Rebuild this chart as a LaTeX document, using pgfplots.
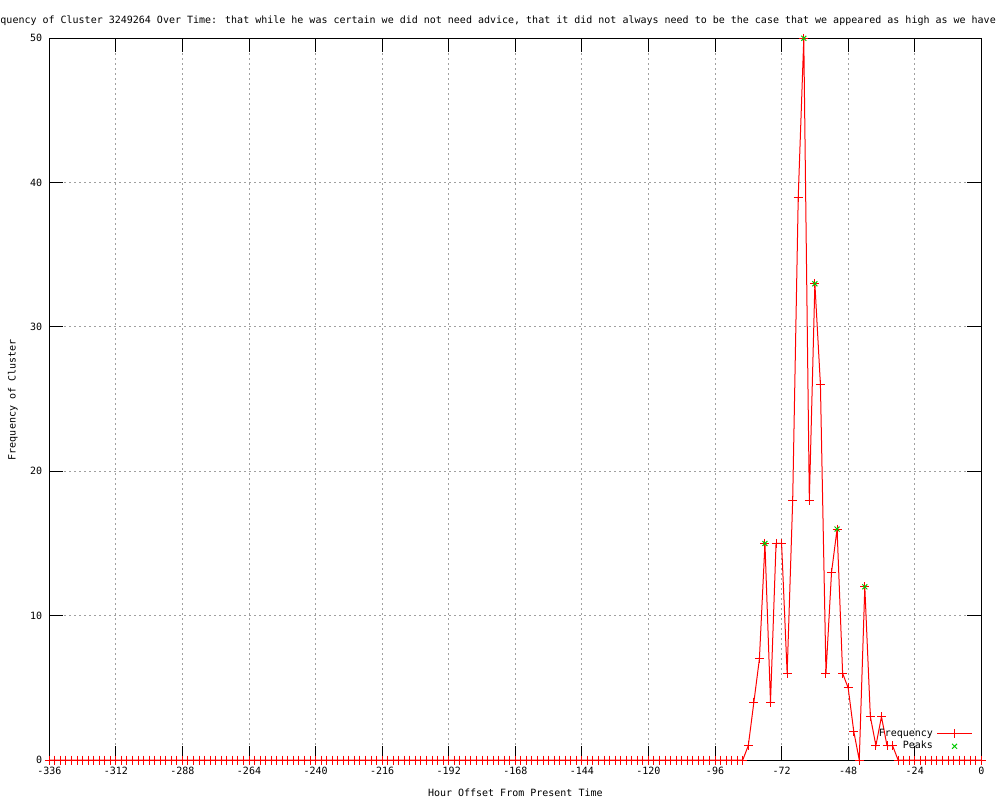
\documentclass[border=0pt]{standalone}
\usepackage{pgfplots}
\pgfplotsset{compat=1.18}
\usepackage{fontspec}
\setmainfont{DejaVu Sans Mono}
\definecolor{gpgreen}{RGB}{0,200,0}
\definecolor{gpgrid}{RGB}{160,160,160}
\begin{document}
\begin{tikzpicture}
\begin{axis}[
  scale only axis,
  width=466pt, height=360.85pt,
  xmin=-336, xmax=0, ymin=0, ymax=50,
  xtick={-336,-312,...,0},
  ytick={0,10,...,50},
  grid=major,
  major grid style={gpgrid, dash pattern=on 1pt off 1.5pt, line width=0.5pt},
  tick align=inside,
  major tick length=7pt,
  tick style={black, line width=0.5pt},
  axis line style={black, line width=0.5pt},
  /pgf/number format/assume math mode=true,
  /pgf/number format/1000 sep={},
  ticklabel style={font=\fontsize{5}{6}\selectfont},
  xlabel={Hour Offset From Present Time},
  ylabel={Frequency of Cluster},
  every axis x label/.style={at={(axis description cs:0.5,-0.0457)}, anchor=center, font=\fontsize{5}{6}\selectfont},
  every axis y label/.style={at={(axis description cs:-0.039,0.499)}, rotate=90, anchor=center, font=\fontsize{5}{6}\selectfont},
  clip=false,
  legend plot pos=right,
  legend cell align=right,
  legend style={draw=none, fill=none, font=\fontsize{5}{6}\selectfont,
    at={(axis description cs:0.997,0.0)}, anchor=south east,
    row sep=-3pt},
]
\addplot[red, line width=0.5pt, mark=+, mark size=2.25pt, mark options={solid, line width=0.5pt}]
table[row sep=\\] {
x y\\
-336 0\\ -334 0\\ -332 0\\ -330 0\\ -328 0\\ -326 0\\ -324 0\\ -322 0\\ -320 0\\ -318 0\\
-316 0\\ -314 0\\ -312 0\\ -310 0\\ -308 0\\ -306 0\\ -304 0\\ -302 0\\ -300 0\\ -298 0\\
-296 0\\ -294 0\\ -292 0\\ -290 0\\ -288 0\\ -286 0\\ -284 0\\ -282 0\\ -280 0\\ -278 0\\
-276 0\\ -274 0\\ -272 0\\ -270 0\\ -268 0\\ -266 0\\ -264 0\\ -262 0\\ -260 0\\ -258 0\\
-256 0\\ -254 0\\ -252 0\\ -250 0\\ -248 0\\ -246 0\\ -244 0\\ -242 0\\ -240 0\\ -238 0\\
-236 0\\ -234 0\\ -232 0\\ -230 0\\ -228 0\\ -226 0\\ -224 0\\ -222 0\\ -220 0\\ -218 0\\
-216 0\\ -214 0\\ -212 0\\ -210 0\\ -208 0\\ -206 0\\ -204 0\\ -202 0\\ -200 0\\ -198 0\\
-196 0\\ -194 0\\ -192 0\\ -190 0\\ -188 0\\ -186 0\\ -184 0\\ -182 0\\ -180 0\\ -178 0\\
-176 0\\ -174 0\\ -172 0\\ -170 0\\ -168 0\\ -166 0\\ -164 0\\ -162 0\\ -160 0\\ -158 0\\
-156 0\\ -154 0\\ -152 0\\ -150 0\\ -148 0\\ -146 0\\ -144 0\\ -142 0\\ -140 0\\ -138 0\\
-136 0\\ -134 0\\ -132 0\\ -130 0\\ -128 0\\ -126 0\\ -124 0\\ -122 0\\ -120 0\\ -118 0\\
-116 0\\ -114 0\\ -112 0\\ -110 0\\ -108 0\\ -106 0\\ -104 0\\ -102 0\\ -100 0\\ -98 0\\
-96 0\\ -94 0\\ -92 0\\ -90 0\\ -88 0\\ -86 0\\
-84 1\\ -82 4\\ -80 7\\ -78 15\\ -76 4\\ -74 15\\ -72 15\\ -70 6\\ -68 18\\ -66 39\\
-64 50\\ -62 18\\ -60 33\\ -58 26\\ -56 6\\ -54 13\\ -52 16\\ -50 6\\ -48 5\\ -46 2\\
-44 0\\ -42 12\\ -40 3\\ -38 1\\ -36 3\\ -34 1\\ -32 1\\
-30 0\\ -28 0\\ -26 0\\ -24 0\\ -22 0\\ -20 0\\ -18 0\\ -16 0\\ -14 0\\ -12 0\\
-10 0\\ -8 0\\ -6 0\\ -4 0\\ -2 0\\ 0 0\\
};
\addlegendentry{Frequency}
\addplot[only marks, gpgreen, mark=x, mark size=1.75pt, mark options={line width=0.5pt}]
table[row sep=\\] {
x y\\
-78 15\\ -64 50\\ -60 33\\ -52 16\\ -42 12\\
};
\addlegendentry{Peaks}
\node[overlay, anchor=base west, font=\fontsize{5}{6}\selectfont, inner sep=0pt]
  at (axis description cs:-0.0722,1.0212)
  {Frequency of Cluster 3249264 Over Time: that while he was certain we did not need advice, that it did not always need to be the case that we appeared as high as we have now been};
\end{axis}
\pgfresetboundingbox
\path[use as bounding box] (-24.65pt,-20pt) rectangle (475.35pt,380pt);
\end{tikzpicture}
\end{document}
